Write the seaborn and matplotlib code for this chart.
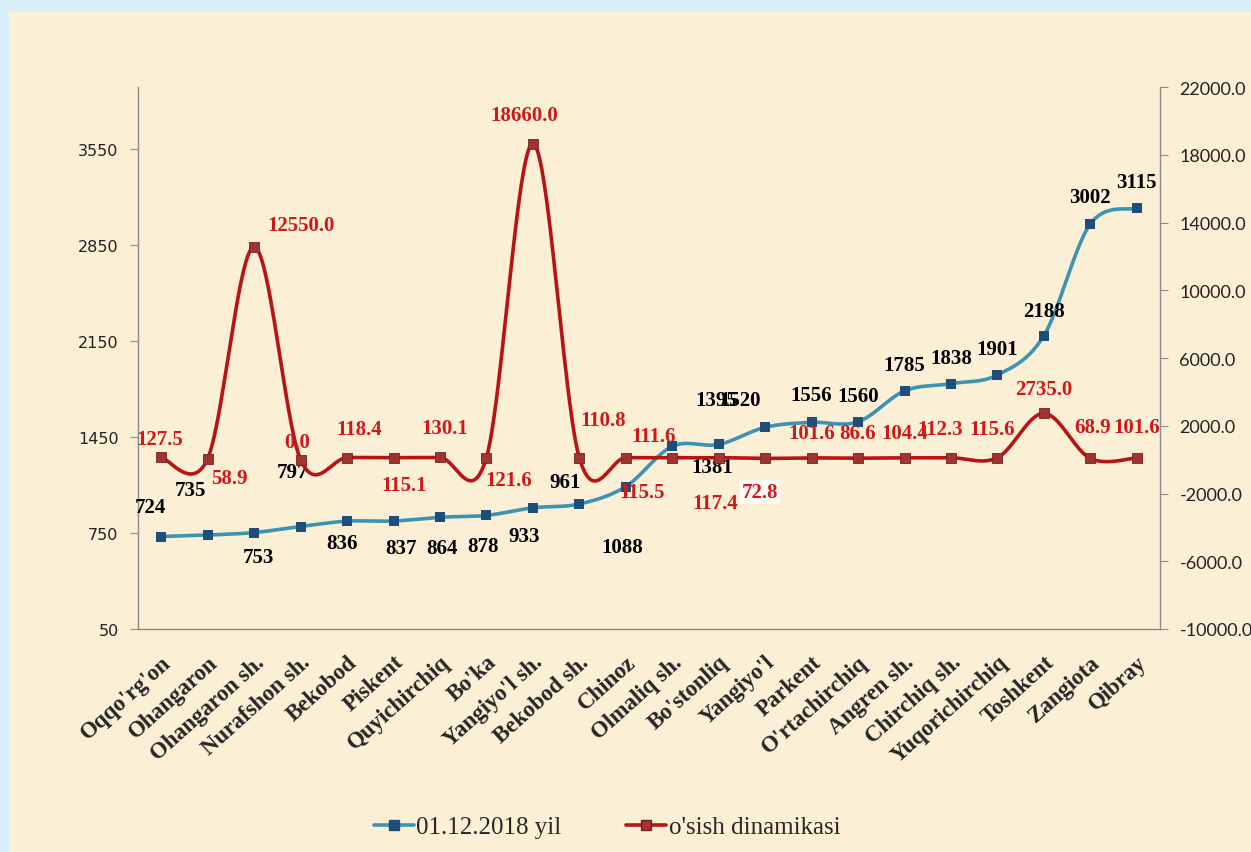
import numpy as np
import pandas as pd
import matplotlib
matplotlib.use("Agg")
import matplotlib.pyplot as plt
import seaborn as sns
from matplotlib.lines import Line2D
from matplotlib.patches import Rectangle

# data
districts = ["Oqqo'rg'on", "Ohangaron", "Ohangaron sh.", "Nurafshon sh.", "Bekobod",
             "Piskent", "Quyichirchiq", "Bo'ka", "Yangiyo'l sh.", "Bekobod sh.", "Chinoz",
             "Olmaliq sh.", "Bo'stonliq", "Yangiyo'l", "Parkent", "O'rtachirchiq",
             "Angren sh.", "Chirchiq sh.", "Yuqorichirchiq", "Toshkent", "Zangiota", "Qibray"]
count_2018 = [724, 735, 753, 797, 836, 837, 864, 878, 933, 961, 1088,
              1381, 1395, 1520, 1556, 1560, 1785, 1838, 1901, 2188, 3002, 3115]
growth = [127.5, 58.9, 12550.0, 0.0, 118.4, 115.1, 130.1, 121.6, 18660.0, 110.8, 115.5,
          111.6, 117.4, 72.8, 101.6, 86.6, 104.4, 112.3, 115.6, 2735.0, 68.9, 101.6]
left_ticks = [50, 750, 1450, 2150, 2850, 3550]
right_ticks = [-10000, -6000, -2000, 2000, 6000, 10000, 14000, 18000, 22000]

# label offsets in pixels (dx, dy downwards)
blue_off = [(-11, -30), (-17, -45), (4, 24), (-8, -55), (-5, 22), (7, 27), (2, 31), (-3, 31),
            (-9, 28), (-14, -22), (-4, 60), (40, 21), (-2, -44), (-25, -27), (0, -27), (0, -26),
            (0, -26), (0, -26), (0, -26), (0, -25), (0, -27), (0, -26)]
red_off = [(-1, -18), (22, 19), (47, -22), (-3, -18), (12, -29), (11, 27), (5, -29), (22, 22),
           (-9, -29), (24, -38), (16, 34), (-19, -22), (-3, 45), (-5, 34), (0, -25), (0, -25),
           (0, -25), (-11, -29), (-5, -29), (0, -24), (2, -31), (0, -31)]


def smooth(vals, n=40):
    # Excel-like smoothed line (Catmull-Rom bezier)
    y = np.asarray(vals, float)
    x = np.arange(len(y), dtype=float)
    yp = np.concatenate([[y[0]], y, [y[-1]]])
    xp = np.concatenate([[x[0]], x, [x[-1]]])
    t = np.linspace(0, 1, n)[:, None]
    out = []
    for i in range(len(y) - 1):
        p0 = np.array([x[i], y[i]])
        p3 = np.array([x[i + 1], y[i + 1]])
        p1 = p0 + np.array([xp[i + 2] - xp[i], yp[i + 2] - yp[i]]) / 6
        p2 = p3 - np.array([xp[i + 3] - xp[i + 1], yp[i + 3] - yp[i + 1]]) / 6
        seg = (1 - t) ** 3 * p0 + 3 * (1 - t) ** 2 * t * p1 + 3 * (1 - t) * t ** 2 * p2 + t ** 3 * p3
        out.append(seg if i == 0 else seg[1:])
    out = np.vstack(out)
    return pd.DataFrame({"x": out[:, 0], "y": out[:, 1]})


sns.set_style("white")
plt.rcParams["font.family"] = ["Liberation Serif", "DejaVu Serif"]

BLUE_LINE = "#3e92b2"
BLUE_MK = "#1d4f7a"
RED_LINE = "#b81414"
RED_MK = "#9e3434"
RED_TXT = "#d01818"
SPINE = "#8a8a8a"

fig = plt.figure(figsize=(12.51, 8.53), dpi=100)
fig.patch.set_facecolor("#d9eef7")
fig.add_artist(Rectangle((9 / 1251, 0), 1, 1 - 13 / 853, transform=fig.transFigure,
                         facecolor="#fbefd6", edgecolor="none", zorder=-10))

ax = fig.add_axes([138 / 1251, 1 - 630 / 853, (1160 - 138) / 1251, (630 - 88) / 853])
ax.set_facecolor("none")
ax2 = ax.twinx()

xs = np.arange(len(districts))
df = pd.DataFrame({"district": districts, "x": xs, "count": count_2018, "growth": growth})

sb = smooth(count_2018)
sns.lineplot(data=sb, x="x", y="y", sort=False, estimator=None, color=BLUE_LINE, lw=2.6, ax=ax)
sns.scatterplot(data=df, x="x", y="count", marker="s", s=55, color=BLUE_MK, edgecolor=BLUE_MK,
                linewidth=0, zorder=3, ax=ax)

sr = smooth(growth)
sns.lineplot(data=sr, x="x", y="y", sort=False, estimator=None, color=RED_LINE, lw=2.6, ax=ax2)
sns.scatterplot(data=df, x="x", y="growth", marker="s", s=60, color=RED_MK, edgecolor="#7a2020",
                linewidth=0.6, zorder=3, ax=ax2)

for i, v in enumerate(count_2018):
    dx, dy = blue_off[i]
    ax.annotate(str(v), xy=(i, v), xytext=(dx, -dy), textcoords="offset pixels",
                ha="center", va="center", fontsize=15, fontweight="bold", color="black")

for i, v in enumerate(growth):
    dx, dy = red_off[i]
    box = None
    if i == 13:
        box = dict(facecolor="white", edgecolor="none", alpha=0.8, pad=1.5)
    ax2.annotate(f"{v:.1f}", xy=(i, v), xytext=(dx, -dy), textcoords="offset pixels",
                 ha="center", va="center", fontsize=15, fontweight="bold", color=RED_TXT, bbox=box)

ax.set_xlim(-0.5, len(districts) - 0.5)
ax.set_ylim(50, 4000)
ax2.set_ylim(-10000, 22000)
ax.set_yticks(left_ticks)
ax.set_yticklabels([str(t) for t in left_ticks], family="DejaVu Sans", fontsize=11.5, color="#222222")
ax2.set_yticks(right_ticks)
ax2.set_yticklabels([f"{t:.1f}" for t in right_ticks], family="Lato", fontsize=13, color="#222222")

ax.set_xticks(xs)
ax.set_xticklabels(districts, rotation=42, ha="right", va="top", rotation_mode="anchor",
                   fontsize=16.5, fontweight="bold")
ax.set_xticks(np.arange(-0.5, len(districts)), minor=True)
ax.tick_params(axis="x", which="major", length=0, pad=16)
ax.tick_params(axis="x", which="minor", length=6, color=SPINE, direction="out")
ax.tick_params(axis="y", length=6, color=SPINE, direction="out", pad=8)
ax2.tick_params(axis="y", length=6, color=SPINE, direction="out", pad=8)
ax.set_xlabel("")
ax.set_ylabel("")
ax2.set_ylabel("")

for a in (ax, ax2):
    a.spines["top"].set_visible(False)
    for s in ("left", "right", "bottom"):
        a.spines[s].set_color(SPINE)
        a.spines[s].set_linewidth(1.0)
ax.spines["right"].set_visible(False)
ax2.spines["left"].set_visible(False)
ax2.spines["bottom"].set_visible(False)

handles = [
    Line2D([0], [0], color=BLUE_LINE, lw=2.6, marker="s", markersize=6.5,
           markerfacecolor=BLUE_MK, markeredgecolor=BLUE_MK),
    Line2D([0], [0], color=RED_LINE, lw=2.6, marker="s", markersize=6.5,
           markerfacecolor=RED_MK, markeredgecolor="#7a2020"),
]
fig.legend(handles, ["01.12.2018 yil", "o'sish dinamikasi"], loc="center",
           bbox_to_anchor=(607 / 1251, 1 - 828 / 853), ncol=2, frameon=False,
           fontsize=18, handlelength=1.6, handletextpad=0.1, columnspacing=2.6)

fig.savefig("out.png", dpi=100)
